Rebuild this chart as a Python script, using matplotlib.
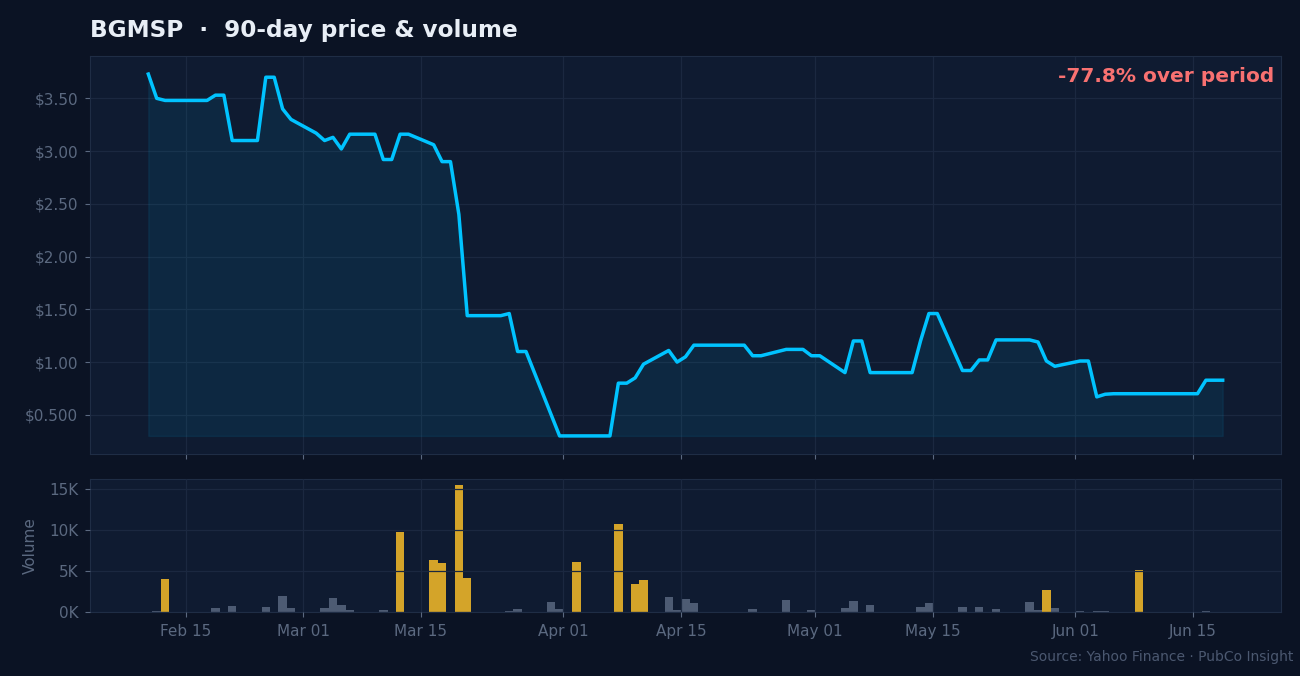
import matplotlib
matplotlib.use("Agg")
import matplotlib.pyplot as plt
import matplotlib.dates as mdates
from matplotlib.ticker import FuncFormatter
import numpy as np
import pandas as pd

# --- data -------------------------------------------------------------
ticker = "BGMSP"
holidays = ["2026-02-16", "2026-04-03", "2026-05-25"]
# trading days, stamped at the bar time of the feed
dates = pd.bdate_range("2026-02-10", "2026-06-18", freq="C",
                       holidays=holidays) + pd.Timedelta(hours=13)

close = [3.73, 3.50, 3.48, 3.48, 3.48, 3.53, 3.53, 3.10, 3.10, 3.70, 3.70, 3.40, 3.30,   # Feb
         3.17, 3.10, 3.13, 3.02, 3.16, 3.16, 2.92, 2.92, 3.16, 3.16, 3.06, 2.90, 2.90,
         2.40, 1.44, 1.44, 1.44, 1.46, 1.10, 1.10, 0.50, 0.30,                          # Mar
         0.30, 0.30, 0.30, 0.80, 0.80, 0.85, 0.98, 1.11, 1.00, 1.05, 1.16, 1.16, 1.16,
         1.16, 1.16, 1.06, 1.06, 1.12, 1.12, 1.12, 1.06,                                # Apr
         1.06, 0.90, 1.20, 1.20, 0.90, 0.90, 0.90, 0.90, 1.20, 1.46, 1.46, 0.92, 0.92,
         1.02, 1.02, 1.21, 1.21, 1.19, 1.01, 0.96,                                      # May
         1.01, 1.01, 0.67, 0.695, 0.70, 0.70, 0.70, 0.70, 0.70, 0.70, 0.70,
         0.828, 0.828, 0.828]                                                          # Jun

volume = [0, 120, 4000, 0, 0, 500, 0, 700, 0, 600, 0, 1950, 500,                         # Feb
          0, 500, 1700, 850, 250, 0, 250, 0, 9750, 0, 6350, 6000, 0,
          15400, 4150, 0, 0, 100, 350, 0, 1200, 350,                                    # Mar
          0, 6100, 0, 10700, 0, 3400, 3900, 1800, 250, 1600, 1100, 0, 0,
          0, 0, 350, 0, 1450, 0, 0, 250,                                                # Apr
          0, 500, 1350, 0, 850, 0, 0, 0, 600, 1100, 0, 600, 0,
          600, 0, 350, 1200, 250, 2700, 500,                                            # May
          120, 0, 100, 100, 0, 5150, 0, 0, 0, 0, 0, 120, 0, 0]                          # Jun

# --- colours ----------------------------------------------------------
BG = "#0b1324"
PANEL = "#0f1b31"
GRID = "#1b2840"
SPINE = "#1f2d45"
TICK = "#5b6980"
CYAN = "#00c3ff"
GOLD = "#d4a429"
BARGRAY = "#4d5b73"

price = np.array(close)
vol = np.array(volume)
bar_colors = [GOLD if v > 2 * vol.mean() else BARGRAY for v in vol]

fig = plt.figure(figsize=(13, 6.76), dpi=100, facecolor=BG)
ax = fig.add_axes([0.0692, 0.3284, 0.9162, 0.5888])
axv = fig.add_axes([0.0692, 0.0947, 0.9162, 0.1967], sharex=ax)

# price panel
ax.plot(dates, price, color=CYAN, lw=2.5, zorder=3)
ax.fill_between(dates, price, price.min(), color=CYAN, alpha=0.08, zorder=2)

# volume panel
axv.bar(dates, vol, width=1.0, color=bar_colors)
axv.set_axisbelow(False)

for a in (ax, axv):
    a.set_facecolor(PANEL)
    a.grid(True, color=GRID, lw=0.9)
    for s in a.spines.values():
        s.set_color(SPINE)
    a.tick_params(colors=TICK, labelcolor=TICK, labelsize=11, pad=5)

ax.yaxis.set_major_formatter(FuncFormatter(lambda y, _: f"${y:#.3g}"))
axv.yaxis.set_major_formatter(FuncFormatter(lambda y, _: f"{y / 1000:.0f}K"))
axv.set_yticks([0, 5000, 10000, 15000])
axv.set_ylabel("Volume", color=TICK, fontsize=11, labelpad=8)

axv.xaxis.set_major_locator(mdates.DayLocator(bymonthday=[1, 15]))
axv.xaxis.set_major_formatter(mdates.DateFormatter("%b %d"))
ax.tick_params(axis="x", labelbottom=False)

change = (price[-1] / price[0] - 1) * 100
ax.text(0.9945, 0.972, f"{change:.1f}% over period", transform=ax.transAxes,
        ha="right", va="top", fontsize=14.5, fontweight="bold", color="#f87171")

fig.text(0.0692, 0.9556, f"{ticker}  \u00b7  90-day price & volume", ha="left",
         va="center", fontsize=16.7, fontweight="bold", color="#e8eef6")
fig.text(0.9946, 0.028, "Source: Yahoo Finance \u00b7 PubCo Insight", ha="right",
         va="center", fontsize=10, color="#4b5870")

fig.savefig("out.png", dpi=100, facecolor=BG)
